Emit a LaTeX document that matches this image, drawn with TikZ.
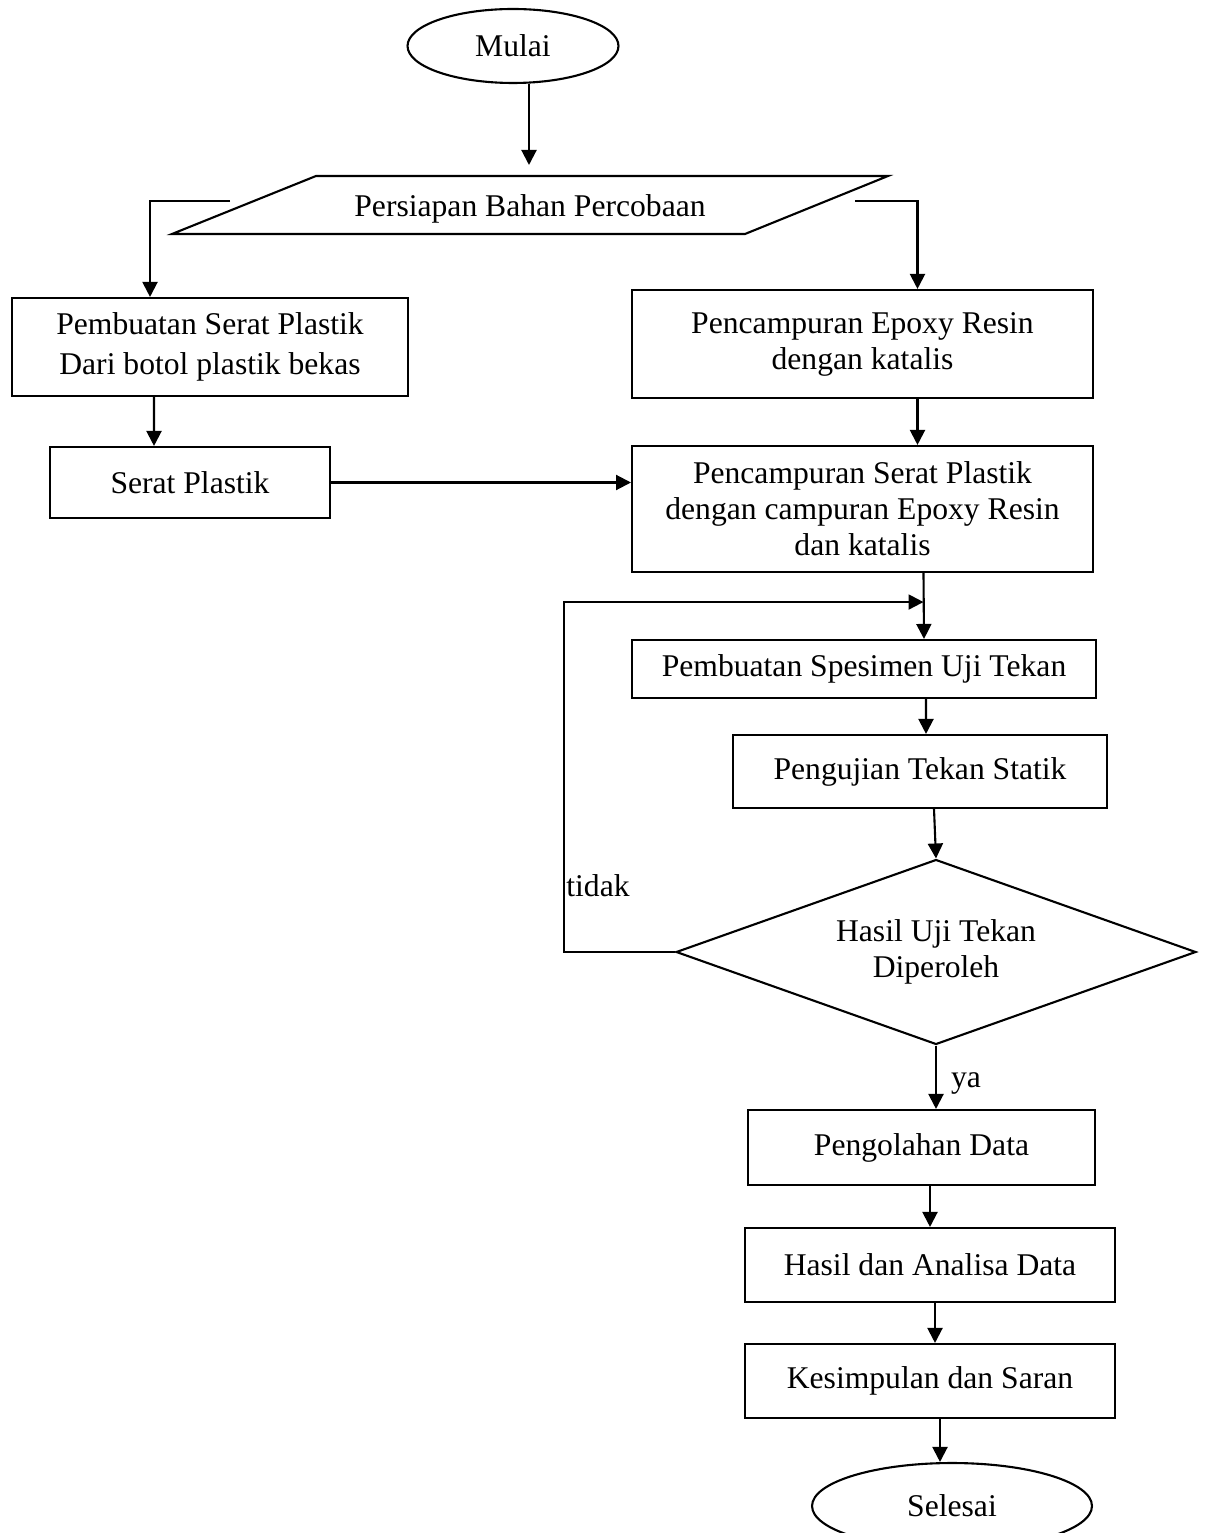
\documentclass[tikz,border=0pt]{standalone}
\usepackage{fontspec}
\setmainfont{Liberation Serif}
\usetikzlibrary{arrows.meta,shapes.geometric}

\begin{document}
\begin{tikzpicture}[x=0.02cm,y=-0.02cm,
    font=\fontsize{18}{20.5}\selectfont,
    box/.style={draw, line width=1.2pt, align=center, inner sep=2pt},
    term/.style={draw, ellipse, line width=1.2pt, inner sep=0pt},
    arr/.style={-{Triangle[length=0.3cm,width=0.3cm]}, line width=1.2pt}]
    \clip (0,0) rectangle (1205,1533);
    % start
    \node[term, minimum width=4.22cm, minimum height=1.48cm] (mulai) at (513,46) {Mulai};
    \coordinate (m1) at (529,165);
    \draw[arr] (mulai.south -| m1) -- (m1);
    % input
    \draw[line width=1.2pt] (316,176) -- (888,176) -- (745,234) -- (172,234) -- cycle;
    \node (persiapan) at (530,209) {Persiapan Bahan Percobaan};
    \coordinate (pl) at (230,201);
    \coordinate (pr) at (855,201);
    % two branches
    \node[box, minimum width=7.92cm, minimum height=1.96cm] (serat1) at (210,347) {Pembuatan Serat Plastik\\[2pt]Dari botol plastik bekas};
    \node[box, minimum width=9.22cm, minimum height=2.16cm] (epoxy) at (862.5,344) {Pencampuran Epoxy Resin\\dengan katalis};
    \node[box, minimum width=5.6cm, minimum height=1.42cm] (serat) at (190,482.5) {Serat Plastik};
    \node[box, minimum width=9.22cm, minimum height=2.52cm] (campur) at (862.5,509) {Pencampuran Serat Plastik\\dengan campuran Epoxy Resin\\dan katalis};
    \draw[arr] (pl) -| ([xshift=-1.2cm]serat1.north);
    \draw[arr] (pr) -| ([xshift=1.1cm]epoxy.north);
    \draw[arr] ([xshift=-1.12cm]serat1.south) -- ([xshift=-0.72cm]serat.north);
    \draw[arr] ([xshift=1.1cm]epoxy.south) -- ([xshift=1.1cm]campur.north);
    \draw[arr] (serat.east) -- (serat.east -| campur.west);
    % testing
    \node[box, minimum width=9.28cm, minimum height=1.16cm] (spesimen) at (864,669) {Pembuatan Spesimen Uji Tekan};
    \node[box, minimum width=7.48cm, minimum height=1.46cm] (uji) at (920,771.5) {Pengujian Tekan Statik};
    \node[draw, diamond, aspect=2.81, line width=1.2pt, align=center, inner sep=0pt,
        minimum width=10.4cm, minimum height=3.7cm] (hasil) at (936,952) {Hasil Uji Tekan\\Diperoleh};
    \coordinate (loopin) at ([xshift=1.22cm,yshift=-0.58cm]campur.south);
    \draw[arr] ([xshift=1.22cm]campur.south) -- ([xshift=1.2cm]spesimen.north);
    \draw[arr] ([xshift=1.24cm]spesimen.south) -- ([xshift=0.12cm]uji.north);
    \draw[arr] ([xshift=0.28cm]uji.south) -- (hasil.north);
    \draw[arr] (hasil.west) -- ++(-111,0) |- (loopin);
    \node (tidak) at (598,886) {tidak};
    % finish
    \node[box, minimum width=6.94cm, minimum height=1.5cm] (olah) at (921.5,1147.5) {Pengolahan Data};
    \node[box, minimum width=7.4cm, minimum height=1.48cm] (analisa) at (930,1265) {Hasil dan Analisa Data};
    \node[box, minimum width=7.4cm, minimum height=1.48cm] (saran) at (930,1381) {Kesimpulan dan Saran};
    \node[term, minimum width=5.6cm, minimum height=1.72cm] (selesai) at (952,1506) {Selesai};
    \draw[arr] (hasil.south) -- (hasil.south |- olah.north);
    \node (ya) at (966,1083) {ya};
    \draw[arr] (olah.south -| analisa.north) -- (analisa.north);
    \draw[arr] ([xshift=0.1cm]analisa.south) -- ([xshift=0.1cm]saran.north);
    \draw[arr] ([xshift=0.2cm]saran.south) -- ([xshift=0.2cm]saran.south |- selesai.north);
\end{tikzpicture}
\end{document}
